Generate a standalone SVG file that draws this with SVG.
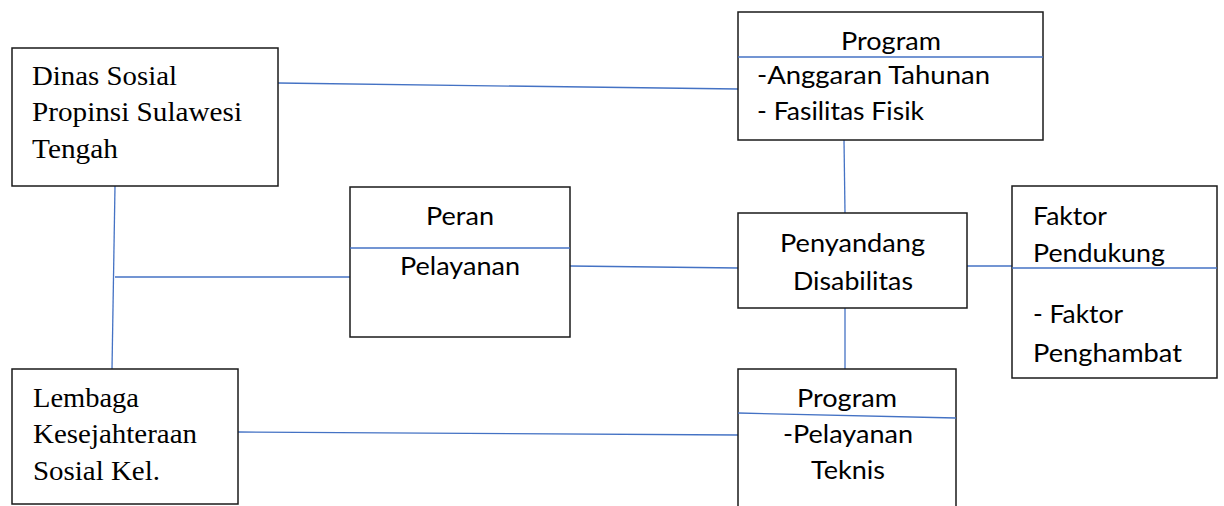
<svg xmlns="http://www.w3.org/2000/svg" width="1224" height="506" viewBox="0 0 1224 506">
<style>
.box{fill:#fff;stroke:#1a1a1a;stroke-width:1.5}
.ln{stroke:#4472C4;stroke-width:1.3;fill:none}
.serif{font-family:"Liberation Serif","Times New Roman",serif;font-size:26.5px;fill:#000}
.sans{font-family:Lato,"Open Sans","Liberation Sans",sans-serif;font-size:24.5px;fill:#000}
</style>
<rect width="1224" height="506" fill="#fff"/>
<g id="connectors">
<line class="ln" x1="278" y1="83" x2="738" y2="89"/>
<line class="ln" x1="844" y1="140" x2="845" y2="213"/>
<line class="ln" x1="115" y1="186" x2="112" y2="369"/>
<line class="ln" x1="115" y1="277" x2="350" y2="277"/>
<line class="ln" x1="570" y1="266" x2="738" y2="268"/>
<line class="ln" x1="967" y1="266" x2="1012" y2="266"/>
<line class="ln" x1="845" y1="308" x2="845" y2="369"/>
<line class="ln" x1="238" y1="432" x2="738" y2="435"/>
</g>
<g id="dinas">
<rect class="box" x="12" y="48" width="266" height="138"/>
<text class="serif" x="32" y="85" textLength="145" lengthAdjust="spacingAndGlyphs">Dinas Sosial</text>
<text class="serif" x="32" y="121" textLength="210" lengthAdjust="spacingAndGlyphs">Propinsi Sulawesi</text>
<text class="serif" x="32" y="158" textLength="86" lengthAdjust="spacingAndGlyphs">Tengah</text>
</g>
<g id="program-top">
<rect class="box" x="738" y="12" width="305" height="128"/>
<line class="ln" x1="738" y1="57" x2="1043" y2="57"/>
<text class="sans" x="841" y="50" textLength="100" lengthAdjust="spacingAndGlyphs">Program</text>
<text class="sans" x="757" y="84" textLength="233" lengthAdjust="spacingAndGlyphs">-Anggaran Tahunan</text>
<text class="sans" x="757" y="120" textLength="167" lengthAdjust="spacingAndGlyphs">- Fasilitas Fisik</text>
</g>
<g id="peran">
<rect class="box" x="350" y="187" width="220" height="150"/>
<line class="ln" x1="350" y1="248" x2="570" y2="248"/>
<text class="sans" x="426" y="225" textLength="68" lengthAdjust="spacingAndGlyphs">Peran</text>
<text class="sans" x="400" y="275" textLength="120" lengthAdjust="spacingAndGlyphs">Pelayanan</text>
</g>
<g id="penyandang">
<rect class="box" x="738" y="213" width="229" height="95"/>
<text class="sans" x="780" y="252" textLength="145" lengthAdjust="spacingAndGlyphs">Penyandang</text>
<text class="sans" x="793" y="290" textLength="120" lengthAdjust="spacingAndGlyphs">Disabilitas</text>
</g>
<g id="faktor">
<rect class="box" x="1012" y="186" width="205" height="192"/>
<line class="ln" x1="1012" y1="268" x2="1217" y2="268"/>
<text class="sans" x="1033" y="225" textLength="74" lengthAdjust="spacingAndGlyphs">Faktor</text>
<text class="sans" x="1033" y="262" textLength="132" lengthAdjust="spacingAndGlyphs">Pendukung</text>
<text class="sans" x="1033" y="323" textLength="90" lengthAdjust="spacingAndGlyphs">- Faktor</text>
<text class="sans" x="1033" y="362" textLength="149" lengthAdjust="spacingAndGlyphs">Penghambat</text>
</g>
<g id="lembaga">
<rect class="box" x="12" y="369" width="226" height="135"/>
<text class="serif" x="33" y="407" textLength="106" lengthAdjust="spacingAndGlyphs">Lembaga</text>
<text class="serif" x="33" y="443" textLength="164" lengthAdjust="spacingAndGlyphs">Kesejahteraan</text>
<text class="serif" x="33" y="480" textLength="127" lengthAdjust="spacingAndGlyphs">Sosial Kel.</text>
</g>
<g id="program-bottom">
<path class="box" d="M738,520 V369 H956 V520"/>
<line class="ln" x1="738" y1="413" x2="956" y2="418"/>
<text class="sans" x="797" y="407" textLength="100" lengthAdjust="spacingAndGlyphs">Program</text>
<text class="sans" x="783" y="443" textLength="130" lengthAdjust="spacingAndGlyphs">-Pelayanan</text>
<text class="sans" x="811" y="479" textLength="74" lengthAdjust="spacingAndGlyphs">Teknis</text>
</g>
</svg>
